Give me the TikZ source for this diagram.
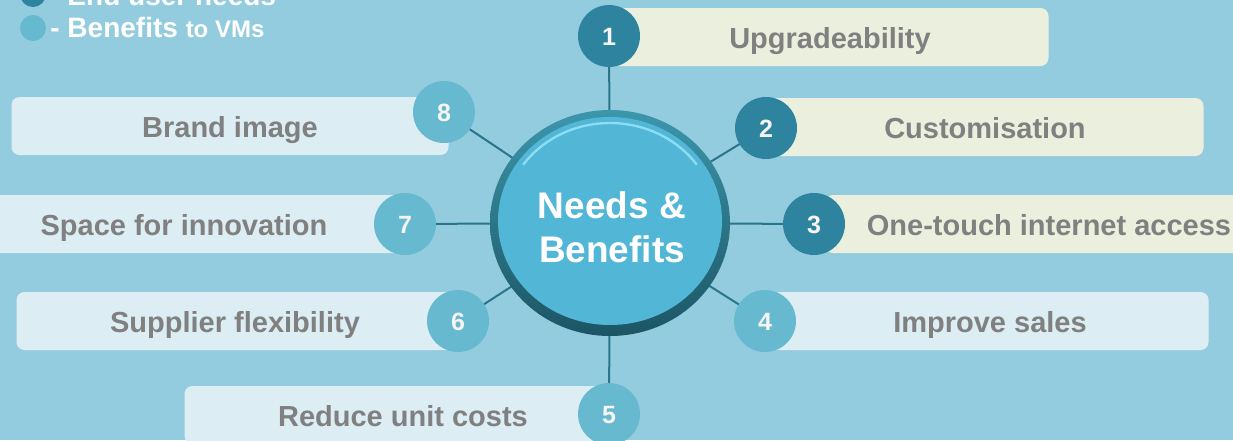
\documentclass[tikz,border=0pt]{standalone}
\usepackage{fontspec}
\setmainfont{Liberation Sans}
\usetikzlibrary{shapes.geometric}
\definecolor{bgc}{RGB}{147,204,222}
\definecolor{darkc}{RGB}{46,132,158}
\definecolor{lightc}{RGB}{103,185,208}
\definecolor{cream}{RGB}{235,240,222}
\definecolor{pale}{RGB}{220,238,244}
\definecolor{txtgray}{RGB}{128,128,128}
\definecolor{linec}{RGB}{42,117,140}
\definecolor{bigc}{RGB}{82,182,214}
\definecolor{rimtop}{RGB}{60,150,172}
\definecolor{rimbot}{RGB}{28,85,100}
\definecolor{hlc}{RGB}{140,220,242}
\definecolor{numtxt}{RGB}{245,245,245}
\pgfdeclarelayer{back}
\pgfdeclarelayer{lines}
\pgfsetlayers{back,lines,main}
\tikzset{
  box/.style={rounded corners=4pt, minimum width=218.5pt, minimum height=29pt, inner sep=0pt,
    text height=11pt, text depth=0pt,
    font=\fontsize{14.5}{17}\selectfont\bfseries, text=txtgray},
  creambox/.style={box, fill=cream},
  palebox/.style={box, fill=pale},
  num/.style={circle, minimum size=31pt, inner sep=0pt, text height=9pt, text depth=0pt,
    font=\fontsize{12.5}{14}\selectfont\bfseries, text=numtxt},
  darknum/.style={num, fill=darkc},
  lightnum/.style={num, fill=lightc},
  link/.style={draw=linec, line width=1pt},
  legdot/.style={circle, minimum size=13pt, inner sep=0pt},
  legtext/.style={anchor=base west, inner sep=0pt, text=white, font=\fontsize{14}{16}\selectfont\bfseries}
}
\begin{document}
\begin{tikzpicture}[x=0.5pt,y=-0.5pt]
\useasboundingbox (0,0) rectangle (1233,440);
\clip (0,0) rectangle (1233,440);
\begin{pgfonlayer}{back}
\fill[bgc] (0,0) rectangle (1233,440);
\end{pgfonlayer}

% legend
\node[legdot, fill=darkc] (ld) at (33,-6) {};
\node[legdot, fill=lightc] (ll) at (33,28) {};
\node[legtext] (lt1) at (50,5) {- End user needs};
\node[legtext] (lt2) at (50,37) {- Benefits {\fontsize{12}{14}\selectfont to VMs}};

% boxes
\node[creambox] (b1) at (830,37) {Upgradeability};
\node[creambox] (b2) at (985,127) {Customisation};
\node[creambox, minimum width=224pt] (b3) at (1049,224) {One-touch internet access};
\node[palebox] (b4) at (990,321) {Improve sales};
\node[palebox] (b5) at (403,415) {Reduce unit costs};
\node[palebox] (b6) at (235,321) {Supplier flexibility};
\node[palebox] (b7) at (184,224) {Space for innovation};
\node[palebox] (b8) at (230,126) {Brand image};

% centre
\node[ellipse, minimum width=120pt, minimum height=113pt, inner sep=0pt,
  top color=rimtop, bottom color=rimbot,
  text=white, align=center, font=\fontsize{18.5}{22}\selectfont\bfseries,
  path picture={
    \fill[bigc] ([yshift=1pt]path picture bounding box.center) ellipse [x radius=56pt, y radius=52pt];
    \draw[hlc, line width=1.2pt] ([yshift=1pt]path picture bounding box.center) ++(145:53pt and 49pt)
      arc[start angle=145, end angle=35, x radius=53pt, y radius=49pt];
  }] (c) at (610,223) {};
\node[text=white, align=center, font=\fontsize{18.5}{22}\selectfont\bfseries, inner sep=0pt] (ct) at (612,227) {Needs \&\\Benefits};

% numbered circles
\node[darknum] (n1) at (609,36) {1};
\node[darknum] (n2) at (766,128) {2};
\node[darknum] (n3) at (814,224) {3};
\node[lightnum] (n4) at (765,321) {4};
\node[lightnum] (n5) at (609,414) {5};
\node[lightnum] (n6) at (458,321) {6};
\node[lightnum] (n7) at (405,224) {7};
\node[lightnum] (n8) at (444,112) {8};

\begin{pgfonlayer}{lines}
\foreach \n in {n1,n2,n3,n4,n5,n6,n7,n8}
  \draw[link] (c.center) -- (\n.center);
\end{pgfonlayer}
\end{tikzpicture}
\end{document}
